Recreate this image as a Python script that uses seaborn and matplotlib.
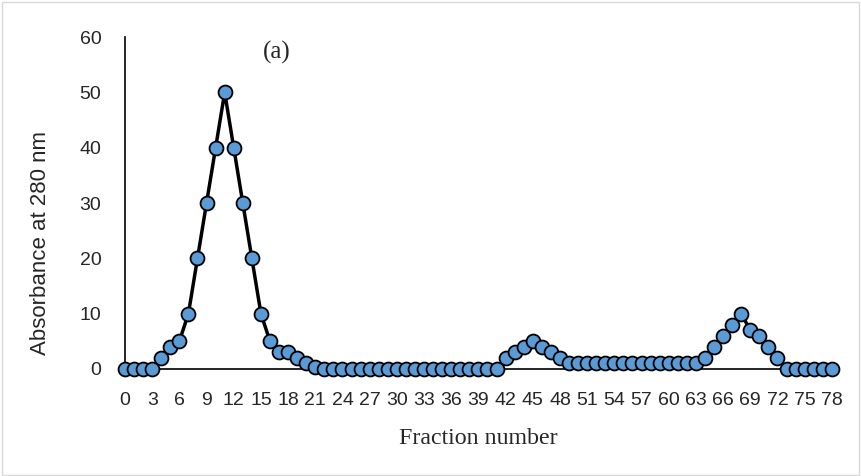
import numpy as np
import pandas as pd
import seaborn as sns
from matplotlib import pyplot as plt
from matplotlib.patches import Rectangle

# Elution profile values.
fraction = list(range(79))
absorbance = (
    [0, 0, 0, 0, 2, 4, 5, 10, 20, 30, 40, 50, 40, 30, 20, 10, 5, 3, 3, 2, 1, 0.4]
    + [0] * 20
    + [2, 3, 4, 5, 4, 3, 2]
    + [1] * 15
    + [2, 4, 6, 8, 10, 7, 6, 4, 2]
    + [0] * 6
)
x_ticks = list(range(0, 79, 3))
y_ticks = [0, 10, 20, 30, 40, 50, 60]

df = pd.DataFrame({'Fraction': fraction, 'Absorbance': absorbance})

sns.set_style('white')
plt.rcParams['font.family'] = ['Liberation Sans', 'DejaVu Sans']

fig = plt.figure(figsize=(8.62, 4.76), dpi=100)
ax = fig.add_axes([0.145, 0.225, 0.82, 0.697])

sns.lineplot(data=df, x='Fraction', y='Absorbance', ax=ax, color='black', linewidth=2.5,
             marker='o', markersize=10, markerfacecolor='#5b9bd5', markeredgecolor='black',
             markeredgewidth=1.3, clip_on=False, zorder=3)

ax.set_xlim(0, 78)
ax.set_ylim(0, 60)
ax.set_xticks(x_ticks)
ax.set_yticks(y_ticks)
ax.tick_params(axis='both', length=0, labelsize=14)
ax.tick_params(axis='x', pad=16.5)
ax.tick_params(axis='y', pad=17)

for side in ['top', 'right']:
    ax.spines[side].set_visible(False)
for side in ['left', 'bottom']:
    ax.spines[side].set_color('black')
    ax.spines[side].set_linewidth(1.2)

ax.set_xlabel('Fraction number', family=['Liberation Serif'], fontsize=17.2)
ax.xaxis.set_label_coords(0.5, -0.178)
ax.set_ylabel('Absorbance at 280 nm', fontsize=16)
ax.yaxis.set_label_coords(-0.104, 0.38)
ax.text(16.8, 57.2, '(a)', family=['Liberation Serif'], fontsize=18, ha='center', va='center')

# light chart border
fig.patches.append(Rectangle((0.002, 0.003), 0.995, 0.993, transform=fig.transFigure,
                             fill=False, edgecolor='#d9d9d9', linewidth=1))

fig.savefig('out.png', dpi=100)
